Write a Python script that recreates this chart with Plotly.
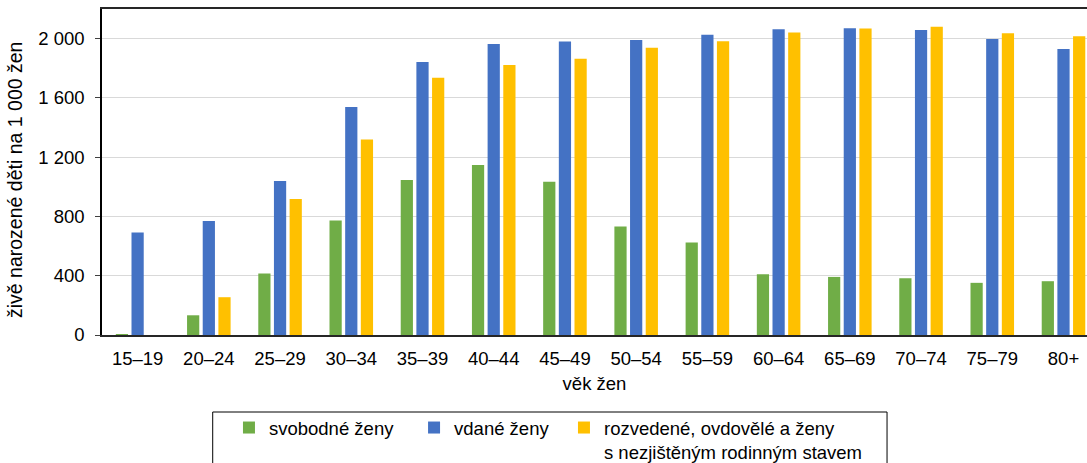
import plotly.graph_objects as go

categories = ["15–19", "20–24", "25–29", "30–34", "35–39", "40–44", "45–49",
              "50–54", "55–59", "60–64", "65–69", "70–74", "75–79", "80+"]
svobodne = [5, 133, 415, 773, 1046, 1148, 1035, 733, 625, 410, 392, 383, 352, 363]
vdane = [692, 769, 1039, 1538, 1842, 1964, 1980, 1991, 2027, 2063, 2070, 2059, 1998, 1930]
rozvedene = [0, 255, 918, 1319, 1736, 1822, 1865, 1939, 1982, 2041, 2068, 2081, 2036, 2016]

names = ["svobodné ženy", "vdané ženy",
         "rozvedené, ovdovělé a ženy<br>s nezjištěným rodinným stavem"]
colors = ["#70AD47", "#4472C4", "#FFC000"]
legend_ids = ["legend", "legend2", "legend3"]
legend_x = [0.1289, 0.3168, 0.469]
FONT = "Liberation Sans, Arial, sans-serif"
FS = 18.5

fig = go.Figure()
for name, vals, col, lg in zip(names, [svobodne, vdane, rozvedene], colors, legend_ids):
    fig.add_trace(go.Bar(x=categories, y=vals, name=name, legend=lg,
                         marker=dict(color=col, line=dict(width=0))))

leg_common = dict(orientation="h", xanchor="left", y=-0.227, yanchor="top",
                  borderwidth=0, bgcolor="rgba(0,0,0,0)", font=dict(size=FS),
                  valign="top")

fig.update_layout(
    width=1087, height=463,
    margin=dict(l=102, r=0, t=9, b=128, autoexpand=False),
    paper_bgcolor="white", plot_bgcolor="white",
    font=dict(family=FONT, size=FS, color="#000000"),
    separators=", ",
    barmode="group", bargap=0.34, bargroupgap=0.22,
    showlegend=True,
    legend=dict(x=legend_x[0], **leg_common),
    legend2=dict(x=legend_x[1], **leg_common),
    legend3=dict(x=legend_x[2], **leg_common),
    shapes=[dict(type="rect", xref="paper", yref="paper",
                 x0=0.1124, x1=0.797, y0=-0.2362, y1=-0.43,
                 line=dict(color="#000000", width=1), fillcolor="rgba(0,0,0,0)",
                 layer="below")],
    annotations=[dict(text="živě narozené děti na 1 000 žen", textangle=-90,
                      xref="paper", yref="paper", x=-0.0883, y=0.4755,
                      xanchor="center", yanchor="middle", showarrow=False,
                      font=dict(size=19.5))],
)
fig.update_xaxes(
    type="category", range=[-0.5, 13.33],
    showline=True, linecolor="#262626", linewidth=2, mirror=True,
    showgrid=False, ticks="", ticklabelstandoff=6,
    title=dict(text="věk žen", font=dict(size=FS), standoff=9),
)
fig.update_yaxes(
    range=[0, 2200], tickvals=[0, 400, 800, 1200, 1600, 2000], tickformat=",d",
    showline=True, linecolor="#000000", linewidth=1.5,
    showgrid=True, gridcolor="#d9d9d9", gridwidth=1,
    ticks="outside", ticklen=5, tickcolor="#404040", ticklabelstandoff=7,
    zeroline=False,
)
fig.write_html("out.html", config={"displayModeBar": False},
               post_script="document.body.style.margin='0px';")
